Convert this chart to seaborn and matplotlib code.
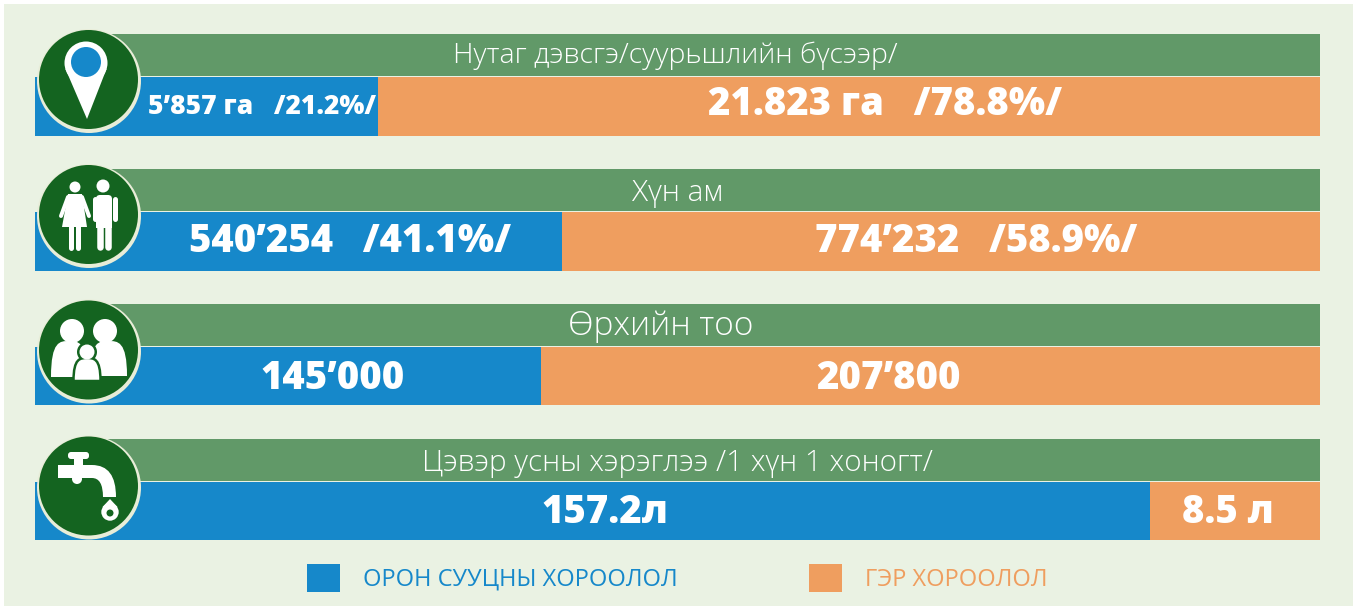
import matplotlib
matplotlib.use("Agg")
import matplotlib.pyplot as plt
import pandas as pd
import seaborn as sns
from matplotlib.patches import Circle, FancyBboxPatch, PathPatch, Patch, Polygon, Rectangle
from matplotlib.path import Path

W, H = 1357, 607  # Output size in pixels

# Width of the blue part of each bar, as drawn (percent of the whole bar)
rows = ["area", "people", "households", "water"]
blue_share = [26.7, 41.0, 39.4, 86.8]
whole_bar = [100, 100, 100, 100]

titles = [
    "Нутаг дэвсгэ/суурьшлийн бүсээр/",
    "Хүн ам",
    "Өрхийн тоо",
    "Цэвэр усны хэрэглээ /1 хүн 1 хоногт/",
]
blue_labels = ["5’857 га   /21.2%/", "540’254   /41.1%/", "145’000", "157.2л"]
orange_labels = ["21.823 га   /78.8%/", "774’232   /58.9%/", "207’800", "8.5 л"]
legend_labels = ["ОРОН СУУЦНЫ ХОРООЛОЛ", "ГЭР ХОРООЛОЛ"]

BG = "#EAF2E3"
GREEN = "#619968"
DARK = "#146420"
RING = "#E8EDD8"
BLUE = "#1688CA"
ORANGE = "#EF9E5F"

sns.set_theme(style="white")
plt.rcParams["font.family"] = ["Open Sans", "DejaVu Sans"]

fig = plt.figure(figsize=(W / 100, H / 100), dpi=100, facecolor="white")
fig.patches.append(Rectangle((4 / W, 1 - 606 / H), 1349 / W, 602 / H, transform=fig.transFigure,
                             facecolor=BG, edgecolor="none", zorder=-1))

df = pd.DataFrame({"row": rows, "blue": blue_share, "whole": whole_bar})

# Bars: row spacing 135 px, 100 percent = 1285 px, left end at x=35
x_limits = (-35 / 12.85, (W - 35) / 12.85)

# Green title bands sit 51 px above the bars, behind the round icons
band = fig.add_axes([0, 0, 1, 1], facecolor="none")
sns.barplot(data=df.assign(whole=df["whole"] - 4), y="row", x="whole", left=4, color=GREEN,
            width=42 / 135, saturation=1, linewidth=0, ax=band)
band.set_xlim(x_limits)
band.set_ylim((H - 55) / 135, -55 / 135)
band.axis("off")

ax = fig.add_axes([0, 0, 1, 1], facecolor="none")
sns.barplot(data=df, y="row", x="whole", color=ORANGE, width=59 / 135, saturation=1, linewidth=0, ax=ax)
sns.barplot(data=df, y="row", x="blue", color=BLUE, width=59 / 135, saturation=1, linewidth=0, ax=ax)
ax.set_xlim(x_limits)
ax.set_ylim((H - 106) / 135, -106 / 135)
ax.axis("off")

# Overlay in pixel coordinates for icons and text
ov = fig.add_axes([0, 0, 1, 1], facecolor="none")
ov.set_xlim(0, W)
ov.set_ylim(H, 0)
ov.axis("off")


def poly(points, color="white", zorder=5):
    ov.add_patch(Polygon(points, closed=True, facecolor=color, edgecolor="none", zorder=zorder))


def dot(x, y, r, color="white", zorder=5):
    ov.add_patch(Circle((x, y), r, facecolor=color, edgecolor="none", zorder=zorder))


def stick(x1, y1, x2, y2, width, zorder=5):
    ov.plot([x1, x2], [y1, y2], color="white", lw=width * 0.72, solid_capstyle="round", zorder=zorder)


def curve(verts, codes, color="white", edge="none", lw=0, zorder=5):
    ov.add_patch(PathPatch(Path(verts, codes), facecolor=color, edgecolor=edge, lw=lw, zorder=zorder))


def body(x1, x2, top, bottom, color="white", edge="none", lw=0, zorder=5):
    # Full rounded shoulders with a flat hem
    m = (x1 + x2) / 2
    q = (x2 - x1) / 4
    verts = [(x1, bottom), (x1, top), (x1 + q, top), (m, top), (x2 - q, top), (x2, top), (x2, bottom), (x1, bottom)]
    codes = [Path.MOVETO, Path.CURVE4, Path.CURVE4, Path.CURVE4, Path.CURVE4, Path.CURVE4, Path.CURVE4,
             Path.CLOSEPOLY]
    curve(verts, codes, color, edge, lw, zorder)


centres = [(88.5, 79.5), (88.5, 214.5), (88.5, 350), (88.5, 486)]
for cx, cy in centres:
    dot(cx + 0.5, cy + 1.5, 52, RING, zorder=3)
    dot(cx, cy, 49.5, DARK, zorder=4)

# Map pin
dot(86, 63, 21.5)
poly([(65.5, 69), (106.5, 69), (87, 119)])
dot(86, 62, 15, BLUE, zorder=6)

# Woman and man
dot(75, 187, 5.5)
poly([(68, 194), (82, 194), (87, 227), (62, 227)])
stick(68, 197, 61, 216, 4)
stick(82, 197, 89, 216, 4)
stick(71, 226, 71, 248, 5)
stick(78, 226, 78, 248, 5)
dot(103, 186, 6.5)
ov.add_patch(FancyBboxPatch((96, 195), 16, 24, boxstyle="round,pad=0,rounding_size=4",
                            facecolor="white", edgecolor="none", zorder=5))
stick(94.5, 199, 94.5, 219, 5)
stick(114.5, 199, 114.5, 219, 5)
poly([(96, 215), (112, 215), (112, 228), (96, 228)])
stick(100, 225, 100, 247, 6.5)
stick(108, 225, 108, 247, 6.5)

# Family
dot(72, 331, 12)
dot(105, 331, 12)
body(51, 87, 341, 377)
body(90, 127, 341, 376)
dot(87, 352, 10, DARK, zorder=6)
dot(87, 352, 7.5, zorder=7)
body(73.5, 100.5, 358, 381, "white", DARK, 1.8, zorder=6)

# Water tap
ov.add_patch(FancyBboxPatch((68, 452), 21, 7, boxstyle="round,pad=0,rounding_size=3",
                            facecolor="white", edgecolor="none", zorder=5))
poly([(74, 459), (83, 459), (83, 466), (74, 466)])
curve([(58, 465), (92, 465), (116, 465), (116, 497), (103, 497), (103, 478), (92, 478), (58, 478), (58, 465)],
      [Path.MOVETO, Path.LINETO, Path.CURVE3, Path.CURVE3, Path.LINETO, Path.CURVE3, Path.CURVE3,
       Path.LINETO, Path.CLOSEPOLY])
dot(77, 479, 5)
dot(110, 512, 8.7)
poly([(102.5, 507), (117.5, 507), (110, 499)])
dot(110, 513, 3.5, DARK, zorder=6)

# Row titles and bar labels
title_x = [675, 678, 661, 677]
title_y = [63, 201, 335, 471]
title_size = [20.5, 21.5, 24, 21.3]
blue_x = [262, 350, 333, 605]
orange_x = [885, 976, 888, 1228]
value_y = [115, 252, 389, 523]
blue_size = [19, 27.5, 27.5, 27.5]
orange_size = [27.5, 27.5, 27.5, 27.5]

for i in range(len(rows)):
    ov.text(title_x[i], title_y[i], titles[i], color="white", fontsize=title_size[i], fontweight="light",
            ha="center", va="baseline", zorder=8)
    blue_base = 114 if i == 0 else value_y[i]
    ov.text(blue_x[i], blue_base, blue_labels[i], color="white", fontsize=blue_size[i], fontweight="heavy",
            ha="center", va="baseline", zorder=8)
    ov.text(orange_x[i], value_y[i], orange_labels[i], color="white", fontsize=orange_size[i], fontweight="heavy",
            ha="center", va="baseline", zorder=8)

handles = [Patch(facecolor=BLUE, linewidth=0, label=legend_labels[0]),
           Patch(facecolor=ORANGE, linewidth=0, label=legend_labels[1])]
ov.legend(handles=handles, ncol=2, frameon=False, fontsize=17, labelcolor=[BLUE, ORANGE],
          handlelength=1.4, handleheight=1.4, handletextpad=0.97, columnspacing=5.55,
          borderpad=0, borderaxespad=0, loc="center left", bbox_to_anchor=(307 / W, 1 - 578 / H))

fig.savefig("out.png", dpi=100, facecolor="white")
